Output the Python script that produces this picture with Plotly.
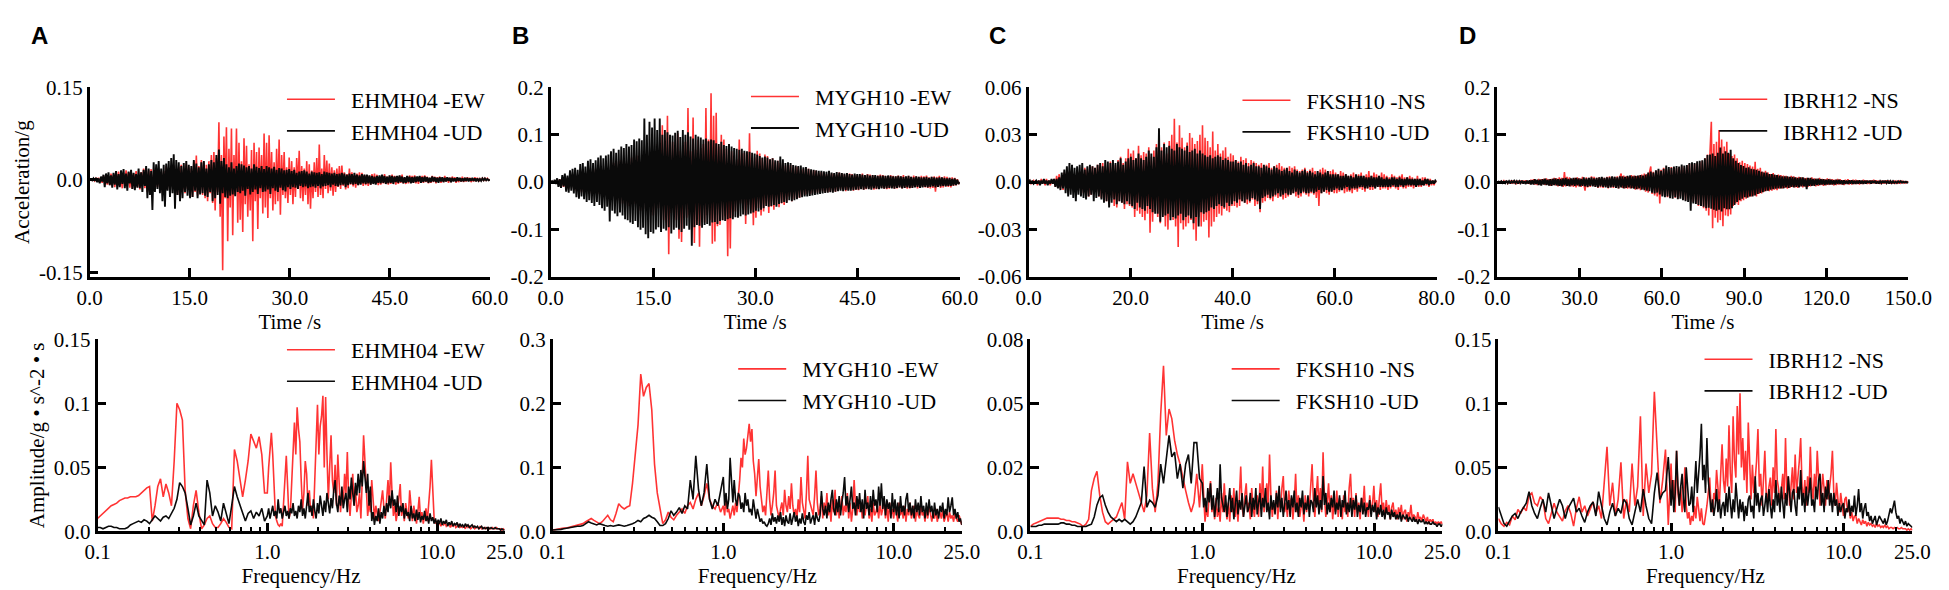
import numpy as np
import plotly.graph_objects as go

# ---------------------------------------------------------------
# acceleration histories (milli-g), evenly sampled over each record
# ---------------------------------------------------------------
dur_a = 60.0
acc_a_ew = [0, 1, -1, 1, -2, 2, -1, 3, -4, 2, -5, 6, -3, 7, -8, 5, -9, 10, -6, 8,
            -12, 9, -5, 13, -10, 4, -14, 11, -8, 15, -6, 12, -13, 7, -15, 10, -9, 14, -12, 6,
            -16, 12, -7, 18, -14, 9, -20, 15, -11, 17, -19, 8, -15, 20, -12, 16, -18, 10, -21, 14,
            -17, 22, -12, 19, -24, 15, -10, 23, -20, 13, -25, 21, -16, 24, -19, 11, -22, 26, -15, 20,
            -24, 18, -28, 30, -20, 39, -26, 22, -18, 32, -25, 28, -30, 24, -35, 30, -22, 40, -38, 45,
            -50, 35, -20, 93, -60, 40, -147, 70, -30, 85, -100, 50, -45, 83, -90, 40, -25, 83, -70, 60,
            -65, 30, -85, 67, -40, 55, -60, 25, -50, 48, -100, 60, -35, 45, -80, 52, -30, 40, -55, 75,
            -45, 60, -62, 72, -30, 45, -50, 28, -40, 50, -35, 65, -57, 40, -25, 45, -30, 20, -38, 36,
            -25, 30, -40, 20, -28, 35, -15, 47, -30, 22, -35, 18, -25, 30, -40, 25, -47, 15, -30, 28,
            -20, 35, -28, 57, -25, 18, -30, 40, -15, 31, -22, 26, -18, 20, -26, 15, -20, 18, -12, 22,
            -15, 23, -10, 12, -16, 9, -14, 18, -8, 12, -11, 7, -13, 10, -9, 12, -7, 11, -10, 8,
            -9, 7, -10, 6, -8, 9, -5, 10, -7, 8, -9, 4, -8, 7, -6, 9, -7, 5, -8, 6,
            -7, 8, -5, 6, -8, 4, -7, 6, -5, 8, -6, 3, -7, 5, -6, 7, -4, 6, -5, 7,
            -6, 4, -7, 5, -3, 6, -5, 7, -4, 5, -6, 3, -5, 6, -4, 5, -6, 4, -3, 5,
            -5, 3, -4, 6, -3, 4, -5, 3, -4, 5, -2, 4, -5, 3, -4, 2, -3, 5, -4, 3,
            -3, 4, -2, 3, -4, 2, -3, 4, -2, 3, -3, 1, -2, 3, -2, 2, -1, 2, -1, 0]
acc_a_ud = [0, 1, -1, 2, -2, 3, -4, 2, -6, 5, -3, 8, -12, 10, -6, 12, -9, 7, -13, 11,
            -8, 14, -16, 9, -12, 15, -7, 17, -14, 10, -18, 13, -6, 16, -15, 11, -17, 9, -13, 18,
            -14, 12, -20, 16, -10, 22, -30, 18, -25, 14, -49, 28, -20, 25, -15, 30, -22, 18, -35, 24,
            -44, 26, -18, 30, -28, 35, -22, 41, -47, 32, -25, 28, -35, 22, -30, 27, -20, 30, -26, 24,
            -30, 22, -28, 32, -18, 26, -30, 20, -24, 28, -22, 30, -26, 18, -28, 25, -20, 32, -35, 28,
            -30, 40, -25, 49, -39, 30, -22, 35, -28, 25, -30, 20, -26, 28, -24, 18, -27, 22, -20, 26,
            -22, 25, -18, 23, -26, 20, -15, 22, -24, 18, -20, 25, -16, 21, -23, 19, -14, 22, -20, 17,
            -19, 22, -16, 20, -23, 18, -14, 21, -18, 16, -20, 19, -13, 18, -17, 15, -19, 16, -12, 17,
            -15, 14, -12, 16, -13, 11, -15, 13, -10, 14, -12, 15, -11, 13, -14, 10, -12, 13, -11, 12,
            -13, 11, -10, 12, -14, 9, -11, 13, -10, 12, -9, 11, -12, 10, -8, 11, -10, 9, -11, 10,
            -9, 11, -8, 10, -12, 8, -9, 10, -7, 9, -8, 11, -7, 8, -9, 7, -8, 9, -6, 8,
            -7, 8, -6, 7, -8, 6, -7, 5, -8, 6, -5, 7, -6, 8, -5, 6, -7, 5, -6, 7,
            -5, 6, -7, 5, -4, 6, -5, 7, -4, 5, -6, 4, -5, 6, -4, 5, -6, 4, -5, 5,
            -4, 5, -3, 6, -5, 4, -4, 5, -3, 4, -5, 3, -4, 5, -3, 4, -4, 3, -5, 4,
            -3, 4, -4, 3, -3, 4, -2, 3, -4, 3, -3, 2, -3, 4, -2, 3, -3, 2, -3, 3,
            -2, 3, -3, 2, -2, 3, -2, 2, -3, 2, -2, 1, -2, 2, -1, 2, -1, 1, -1, 0]

dur_b = 60.0
acc_b_ew = [0, 1, -1, 2, -3, 3, -5, 6, -4, 8, -10, 6, -12, 9, -13, 11, -8, 14, -16, 12,
            -18, 13, -10, 20, -21, 16, -23, 18, -13, 24, -25, 16, -26, 22, -20, 28, -30, 21, -25, 30,
            -33, 26, -20, 34, -36, 25, -40, 33, -30, 41, -43, 32, -38, 44, -26, 46, -45, 36, -48, 40,
            -50, 43, -33, 52, -53, 40, -46, 56, -54, 45, -60, 48, -40, 58, -56, 50, -61, 53, -46, 63,
            -70, 60, -75, 80, -55, 72, -68, 120, -80, 65, -85, 140, -152, 70, -65, 85, -75, 68, -80, 103,
            -119, 65, -126, 72, -60, 85, -75, 156, -70, 65, -80, 136, -128, 68, -82, 90, -136, 72, -65, 80,
            -85, 156, -70, 90, -80, 187, -130, 140, -125, 146, -93, 75, -90, 100, -80, 90, -72, 70, -156, 80,
            -140, 65, -72, 55, -62, 48, -55, 90, -45, 60, -52, 62, -88, 50, -48, 103, -60, 45, -91, 52,
            -75, 66, -55, 60, -70, 50, -62, 58, -45, 55, -65, 48, -52, 50, -58, 42, -48, 45, -53, 40,
            -45, 40, -48, 35, -42, 38, -30, 36, -40, 30, -35, 33, -28, 32, -33, 25, -30, 28, -27, 30,
            -25, 28, -26, 22, -24, 25, -20, 24, -22, 18, -23, 21, -19, 20, -22, 17, -21, 19, -20, 18,
            -19, 17, -20, 16, -18, 20, -15, 18, -17, 16, -19, 15, -16, 18, -14, 17, -18, 15, -16, 14,
            -17, 15, -14, 18, -16, 13, -15, 17, -13, 16, -14, 15, -16, 12, -15, 14, -13, 16, -12, 15,
            -14, 13, -15, 12, -14, 15, -11, 13, -14, 12, -13, 14, -11, 12, -13, 15, -12, 11, -14, 13,
            -13, 11, -12, 14, -10, 12, -13, 11, -12, 13, -10, 12, -11, 14, -12, 10, -13, 11, -12, 12,
            -20, 11, -10, 13, -12, 10, -11, 12, -9, 11, -10, 9, -11, 10, -8, 9, -7, 6, -4, 0]
acc_b_ud = [0, 2, -3, 5, -4, 8, -10, 6, -12, 15, -9, 18, -20, 14, -22, 25, -18, 28, -24, 30,
            -32, 26, -35, 38, -30, 40, -36, 33, -42, 45, -38, 48, -44, 40, -50, 46, -42, 52, -48, 56,
            -55, 50, -60, 56, -52, 58, -83, 65, -60, 70, -66, 62, -72, 68, -64, 75, -70, 72, -78, 80,
            -80, 75, -85, 78, -88, 90, -82, 86, -95, 92, -100, 88, -96, 134, -110, 100, -118, 127, -105, 115,
            -108, 134, -100, 110, -95, 134, -105, 100, -98, 110, -102, 105, -95, 100, -108, 98, -100, 104, -96, 108,
            -100, 95, -105, 110, -98, 100, -92, 105, -100, 96, -134, 92, -95, 100, -90, 96, -92, 94, -96, 90,
            -90, 92, -88, 86, -92, 90, -85, 88, -84, 82, -88, 80, -82, 85, -80, 78, -82, 76, -78, 80,
            -76, 75, -78, 72, -74, 70, -75, 68, -72, 70, -68, 66, -70, 65, -68, 64, -66, 62, -64, 60,
            -60, 58, -62, 55, -58, 52, -55, 54, -50, 52, -52, 48, -50, 50, -48, 46, -52, 45, -46, 54,
            -44, 48, -42, 40, -44, 42, -38, 40, -40, 36, -38, 35, -36, 34, -33, 35, -32, 31, -30, 32,
            -30, 28, -29, 27, -28, 26, -27, 25, -26, 24, -25, 24, -24, 23, -23, 22, -22, 24, -21, 20,
            -22, 19, -20, 21, -19, 20, -18, 19, -19, 18, -17, 19, -18, 17, -18, 16, -17, 18, -16, 17,
            -16, 17, -15, 16, -16, 15, -14, 16, -15, 14, -16, 15, -13, 15, -14, 13, -15, 14, -13, 14,
            -14, 13, -13, 14, -12, 13, -13, 12, -14, 12, -12, 13, -11, 12, -13, 11, -12, 12, -11, 13,
            -12, 11, -12, 10, -11, 12, -10, 11, -12, 10, -11, 10, -10, 11, -11, 9, -10, 11, -9, 10,
            -11, 9, -10, 10, -9, 10, -8, 9, -9, 8, -8, 9, -8, 7, -7, 8, -6, 5, -4, 0]

dur_c = 80.0
acc_c_ns = [0, 1, -1, 0, 1, -1, 1, -2, 1, -1, 2, -1, 1, -2, 2, -1, 1, -2, 1, -1,
            2, -3, 4, -2, 5, -4, 3, -5, 6, -3, 4, -6, 5, -4, 6, -5, 3, -6, 7, -4,
            6, -8, 5, -7, 9, -6, 8, -9, 5, -8, 10, -7, 9, -6, 11, -9, 7, -10, 12, -8,
            10, -12, 9, -14, 13, -10, 12, -15, 11, -16, 14, -12, 16, -13, 12, -17, 15, -14, 21, -15,
            18, -16, 20, -22, 15, -18, 23, -20, 17, -22, 19, -24, 18, -20, 22, -32, 16, -25, 20, -18,
            24, -22, 20, -26, 22, -20, 25, -28, 18, -30, 26, -22, 30, -24, 40, -28, 25, -41, 36, -26,
            28, -30, 22, -28, 25, -26, 31, -24, 28, -30, 24, -37, 26, -22, 30, -28, 36, -25, 28, -24,
            26, -35, 22, -28, 32, -25, 20, -22, 24, -20, 18, -21, 20, -17, 22, -18, 16, -19, 18, -15,
            17, -15, 14, -16, 13, -15, 16, -12, 14, -13, 15, -14, 12, -13, 14, -11, 13, -15, 12, -14,
            11, -19, 12, -13, 10, -12, 11, -10, 12, -11, 9, -12, 10, -9, 11, -10, 12, -9, 10, -11,
            9, -10, 8, -9, 10, -8, 9, -7, 10, -9, 8, -10, 7, -9, 8, -7, 9, -8, 7, -9,
            8, -7, 9, -8, 7, -10, 6, -15, 8, -7, 9, -6, 8, -7, 6, -8, 7, -6, 8, -7,
            6, -7, 5, -6, 7, -5, 6, -7, 5, -6, 4, -6, 5, -7, 6, -5, 4, -6, 5, -4,
            6, -5, 4, -6, 5, -4, 7, -5, 4, -5, 6, -4, 5, -3, 4, -5, 6, -4, 5, -4,
            4, -5, 3, -4, 5, -3, 4, -4, 3, -5, 4, -3, 5, -4, 3, -4, 3, -3, 4, -3,
            3, -4, 2, -3, 4, -3, 2, -3, 3, -2, 3, -2, 2, -3, 2, -2, 1, -2, 1, 0]
acc_c_ud = [0, 1, -1, 1, -1, 0, 1, -1, 1, -2, 1, -1, 2, -1, 1, -2, 1, -1, 2, -1,
            2, -3, 2, -4, 3, -5, 6, -4, 8, -7, 10, -9, 12, -8, 11, -10, 9, -12, 10, -8,
            11, -9, 12, -10, 8, -11, 10, -9, 11, -8, 10, -12, 9, -10, 11, -9, 12, -11, 10, -13,
            14, -12, 13, -16, 12, -13, 14, -11, 12, -14, 13, -12, 15, -13, 11, -14, 13, -12, 15, -14,
            16, -15, 14, -17, 15, -13, 18, -16, 15, -17, 14, -18, 16, -15, 20, -17, 18, -19, 16, -20,
            22, -20, 34, -25, 20, -22, 24, -21, 22, -20, 23, -24, 21, -22, 20, -23, 24, -21, 22, -20,
            21, -24, 20, -22, 23, -21, 19, -23, 20, -26, 21, -22, 18, -28, 20, -19, 18, -20, 17, -19,
            16, -18, 17, -16, 15, -17, 16, -15, 17, -14, 16, -15, 14, -16, 15, -13, 14, -15, 13, -14,
            13, -12, 14, -13, 12, -11, 13, -12, 11, -13, 12, -11, 10, -12, 11, -10, 12, -11, 10, -12,
            10, -17, 9, -10, 11, -9, 10, -8, 9, -10, 8, -9, 10, -8, 9, -7, 8, -9, 7, -8,
            8, -7, 9, -8, 7, -8, 6, -7, 8, -6, 7, -8, 6, -7, 7, -6, 8, -7, 6, -7,
            7, -6, 6, -7, 5, -6, 7, -5, 6, -7, 5, -6, 6, -5, 7, -6, 5, -6, 5, -5,
            5, -4, 5, -5, 4, -5, 4, -4, 5, -3, 4, -5, 4, -4, 3, -4, 5, -4, 4, -3,
            4, -3, 4, -4, 3, -4, 3, -3, 4, -3, 3, -4, 3, -3, 4, -3, 3, -3, 2, -3,
            3, -3, 2, -3, 3, -2, 3, -3, 2, -3, 3, -2, 2, -3, 2, -2, 3, -2, 2, -2,
            2, -2, 2, -3, 2, -2, 2, -2, 1, -2, 2, -1, 2, -2, 1, -1, 1, -1, 1, 0]

dur_d = 150.0
acc_d_ns = [0, 1, -2, 2, -1, 3, -2, 2, -3, 1, 2, -3, 3, -2, 1, -3, 2, -2, 3, -2,
            3, -2, 4, -3, 2, -4, 5, -3, 6, -5, 4, -6, 7, -5, 6, -4, 7, -6, 8, -5,
            6, -8, 7, -6, 9, -7, 8, -9, 10, -8, 9, -10, 21, -9, 11, -8, 10, -9, 7, -10,
            9, -11, 10, -9, 8, -10, 11, -9, -18, 10, -11, 9, -10, 12, -8, 11, -10, 9, -12, 10,
            -11, 10, -12, 9, -10, 11, -13, 12, -11, 10, -12, 11, -10, 12, -13, 11, 18, -12, 14, -13,
            12, -14, 11, -13, 15, -12, 14, -16, 13, -15, 14, -17, 16, -14, 18, -20, 17, -22, 20, 33,
            -25, 22, -28, 24, -30, 25, -45, 26, -28, 30, -26, 28, -32, 27, -30, 32, -28, 30, -33, 29,
            -35, 32, -30, 34, -36, 30, -38, 35, -32, 38, -40, 36, -42, 38, -45, 40, -50, 42, -48, 45,
            -55, 50, -60, 58, -70, 65, 127, -97, 80, -75, 85, -85, 110, -80, 90, -93, 75, -70, 85, -72,
            60, -68, 55, -50, 58, -45, 50, -48, 42, -40, 45, -38, 40, -35, 38, -32, 35, -30, 33, -28,
            43, -30, 28, -25, 30, -24, 22, -20, 24, -18, 20, -19, 17, -18, 19, -16, 15, -17, 16, -14,
            15, -13, 14, -12, 13, -14, 11, -12, 13, -10, 12, -11, 10, -12, 11, -9, 10, -11, 9, -10,
            9, -10, 8, -9, 10, -7, 8, -9, 7, -8, 9, -6, 7, -8, 6, -7, 8, -6, 7, -5,
            6, -7, 5, -6, 7, -5, 6, -5, 4, -6, 5, -4, 6, -5, 4, -5, 5, -4, 5, -4,
            4, -5, 3, -4, 5, -3, 4, -4, 3, -4, 4, -3, 5, -3, 4, -3, 3, -4, 3, -3,
            3, -3, 4, -2, 3, -3, 2, -3, 3, -2, 2, -3, 2, -2, 2, -2, 1, -2, 1, 0]
acc_d_ud = [0, 1, -1, 2, -2, 1, -2, 3, -2, 2, -3, 2, -1, 3, -2, 2, -3, 2, -2, 3,
            -3, 2, -4, 3, -3, 4, -5, 4, -5, 6, -4, 5, -6, 5, -7, 6, -5, 7, -6, 5,
            -7, 6, -8, 7, -6, 8, -7, 6, -8, 7, -9, 8, -7, 9, -8, 7, -9, 8, -7, 9,
            -8, 9, -7, 8, -9, 7, -8, 10, -9, 8, -10, 9, -8, 10, -9, 8, -10, 9, -11, 10,
            -9, 11, -10, 9, -11, 10, -12, 10, -11, 12, -10, 11, -12, 10, -13, 12, -11, 12, -13, 11,
            -12, 13, -11, 14, -13, 12, -14, 13, -15, 14, -13, 15, -16, 14, -17, 16, -18, 20, -19, 22,
            -22, 20, -24, 25, -22, 28, -26, 24, -30, 28, -32, 35, -30, 32, -34, 30, -35, 33, -32, 34,
            -36, 33, -35, 37, -38, 35, -40, 36, -42, 40, -60, 42, -45, 40, -46, 44, -48, 45, -50, 46,
            -52, 50, -55, 57, -54, 58, -56, 60, -58, 55, -60, 62, -58, 73, -62, 60, -55, 65, -57, 62,
            -57, 68, -55, 50, -48, 45, -42, 40, -38, 36, -35, 34, -32, 30, -33, 31, -30, 28, -30, 27,
            -28, 26, -25, 24, -23, 22, -21, 20, -19, 20, -18, 17, -16, 17, -15, 16, -14, 15, -13, 14,
            -13, 12, -13, 12, -11, 12, -12, 11, -10, 11, -11, 10, -10, 9, -11, 10, -9, 10, -9, 8,
            -15, 9, -8, 9, -8, 7, -8, 7, -6, 7, -6, 6, -5, 6, -6, 5, -5, 6, -5, 5,
            -5, 4, -5, 5, -4, 5, -4, 4, -5, 4, -4, 3, -4, 4, -3, 4, -4, 3, -4, 3,
            -3, 4, -3, 3, -4, 3, -3, 3, -2, 3, -3, 3, -2, 3, -3, 2, -3, 2, -2, 3,
            -2, 3, -2, 2, -3, 2, -2, 2, -2, 1, -2, 2, -1, 2, -1, 1, -1, 1, -1, 0]

# ---------------------------------------------------------------
# Fourier amplitude spectra (x 0.001 g*s^-2*s)
# first 62 values: log-spaced 0.1-1 Hz, the rest: finer log spacing 1-25 Hz
# ---------------------------------------------------------------
N_LOW = 62
fas_a_ew = [10, 12, 14, 16, 18, 20, 21, 22, 24, 25,
            26, 26, 27, 27, 27, 28, 30, 32, 34, 35,
            8, 20, 35, 41, 27, 37, 30, 20, 55, 100,
            95, 87, 32, 10, 2, 20, 32, 15, 2, 5,
            10, 12, 6, 3, 3, 6, 10, 7, 3, 2,
            64, 55, 40, 27, 40, 55, 76, 70, 65, 74,
            60, 30,
            30, 50, 65, 77, 60, 30, 12, 8, 5, 4, 6, 4, 20, 40, 59, 35,
            10, 15, 40, 70, 85, 60, 97, 80, 70, 40, 17, 30, 55, 45, 20, 32,
            15, 20, 10, 40, 70, 99, 60, 82, 90, 106, 50, 105, 60, 25, 50, 75,
            40, 30, 52, 20, 60, 35, 15, 32, 20, 45, 30, 62, 25, 12, 32, 45,
            20, 35, 15, 20, 30, 10, 40, 75, 55, 30, 12, 22, 15, 40, 25, 10,
            20, 12, 8, 15, 25, 32, 18, 10, 25, 40, 20, 54, 30, 12, 20, 8,
            15, 25, 37, 12, 20, 8, 22, 15, 10, 32, 18, 8, 20, 12, 6, 15,
            27, 10, 15, 6, 12, 18, 8, 20, 35, 56, 25, 10, 6, 8, 5, 7,
            4, 6, 5, 7, 4, 5, 6, 3, 5, 4, 6, 3, 4, 5, 3, 4,
            3, 4, 2, 5, 3, 4, 2, 3, 4, 2, 3, 3, 2, 4, 2, 3,
            2, 3, 2, 3, 2, 2, 3, 2, 2, 3, 2, 2, 2, 1, 2, 1]
fas_a_ud = [3, 3, 2, 3, 4, 4, 3, 3, 2, 2,
            2, 3, 5, 6, 7, 8, 7, 9, 8, 6,
            9, 12, 10, 8, 11, 12, 10, 14, 18, 25,
            38, 35, 30, 18, 5, 12, 22, 12, 8, 5,
            40, 30, 12, 20, 15, 8, 22, 14, 6, 20,
            35, 27, 20, 15, 8, 14, 16, 10, 15, 12,
            18, 8,
            12, 18, 10, 15, 20, 12, 16, 10, 25, 14, 18, 10, 14, 20, 12, 16,
            10, 18, 14, 22, 12, 16, 10, 20, 15, 25, 12, 18, 10, 22, 30, 15,
            20, 12, 25, 16, 10, 22, 14, 28, 18, 12, 24, 15, 30, 20, 14, 26,
            18, 32, 40, 22, 15, 28, 20, 35, 18, 25, 30, 15, 35, 25, 42, 30,
            20, 38, 28, 45, 30, 48, 35, 55, 40, 30, 45, 20, 35, 8, 15, 5,
            12, 8, 18, 6, 15, 10, 20, 12, 22, 15, 28, 18, 32, 20, 25, 15,
            28, 12, 20, 15, 22, 10, 18, 12, 15, 8, 20, 10, 14, 8, 17, 9,
            15, 7, 12, 9, 16, 8, 12, 6, 14, 8, 11, 6, 10, 5, 9, 6,
            10, 5, 8, 6, 9, 4, 7, 5, 8, 4, 6, 5, 7, 3, 6, 4,
            5, 3, 6, 4, 5, 3, 4, 5, 3, 4, 3, 4, 2, 3, 4, 2,
            3, 2, 3, 3, 2, 3, 2, 2, 3, 2, 2, 2, 1, 2, 1, 1]

fas_b_ew = [2, 3, 3, 4, 5, 5, 6, 7, 8, 9,
            10, 12, 15, 18, 20, 17, 14, 12, 15, 20,
            25, 18, 15, 28, 43, 38, 35, 38, 40, 75,
            120, 166, 246, 211, 225, 231, 190, 105, 60, 35,
            12, 18, 30, 22, 18, 25, 30, 35, 28, 40,
            45, 35, 50, 60, 40, 55, 75, 50, 40, 35,
            45, 30,
            40, 25, 55, 30, 35, 20, 30, 40, 25, 45, 30, 50, 80, 115, 100, 145,
            120, 130, 150, 168, 140, 160, 110, 90, 55, 80, 113, 70, 45, 30, 40, 25,
            60, 95, 50, 25, 40, 60, 95, 40, 30, 20, 35, 45, 25, 65, 40, 30,
            55, 35, 75, 40, 25, 35, 20, 50, 30, 85, 45, 30, 20, 60, 118, 50,
            40, 30, 25, 55, 95, 45, 25, 35, 55, 20, 45, 30, 60, 25, 40, 15,
            50, 30, 65, 25, 45, 20, 35, 55, 25, 40, 30, 60, 20, 45, 15, 35,
            80, 40, 25, 50, 30, 45, 20, 35, 25, 40, 55, 20, 35, 15, 45, 25,
            30, 40, 20, 45, 25, 35, 50, 20, 40, 15, 45, 25, 35, 20, 40, 30,
            15, 45, 25, 35, 20, 40, 15, 35, 25, 45, 20, 30, 40, 15, 35, 25,
            20, 40, 25, 30, 15, 35, 20, 40, 25, 15, 30, 20, 35, 15, 25, 30,
            20, 35, 15, 25, 30, 15, 30, 20, 25, 15, 30, 20, 15, 25, 15, 10]
fas_b_ud = [2, 2, 3, 3, 4, 5, 6, 7, 7, 8,
            8, 9, 12, 15, 13, 11, 10, 12, 10, 9,
            8, 9, 8, 9, 10, 9, 8, 9, 10, 12,
            14, 17, 15, 20, 22, 25, 22, 20, 15, 9,
            9, 12, 20, 32, 25, 30, 37, 28, 40, 35,
            80, 50, 118, 65, 40, 60, 105, 50, 35, 50,
            40, 60,
            85, 40, 60, 35, 50, 115, 70, 45, 80, 50, 40, 60, 55, 35, 45, 30,
            60, 40, 50, 30, 35, 25, 50, 30, 20, 35, 25, 15, 20, 12, 15, 10,
            8, 12, 20, 10, 28, 15, 22, 12, 25, 15, 30, 10, 22, 8, 25, 15,
            12, 28, 10, 22, 30, 15, 25, 8, 20, 12, 28, 15, 10, 25, 18, 30,
            12, 20, 25, 10, 30, 20, 15, 25, 63, 35, 25, 40, 20, 45, 30, 50,
            65, 35, 25, 50, 30, 55, 25, 45, 60, 85, 40, 55, 30, 50, 70, 35,
            45, 25, 55, 35, 60, 30, 50, 20, 65, 35, 45, 25, 55, 30, 65, 40,
            50, 30, 70, 40, 75, 35, 55, 25, 50, 35, 45, 20, 60, 30, 50, 25,
            45, 20, 55, 30, 40, 25, 50, 60, 30, 45, 25, 40, 20, 50, 30, 45,
            25, 55, 30, 40, 20, 45, 25, 50, 30, 40, 20, 45, 25, 35, 20, 40,
            30, 45, 20, 35, 25, 53, 30, 40, 53, 25, 35, 20, 30, 15, 20, 10]

fas_c_ns = [2, 3, 3.5, 4, 4.5, 5, 5.5, 5.5, 5.5, 5.5,
            5.5, 5, 5, 4.5, 4.5, 4, 4, 3.5, 3, 2,
            3, 5, 17, 22, 25, 15, 8, 4, 3, 4,
            5, 6, 9, 12, 5, 29, 20, 24, 20, 16,
            12, 8, 15, 41, 18, 8, 20, 49, 69, 40,
            51, 47, 38, 32, 28, 22, 17, 12, 8, 12,
            24, 10,
            28, 15, 4, 10, 6, 15, 21, 8, 12, 5, 14, 6, 10, 4, 16, 8,
            20, 10, 5, 12, 4, 15, 8, 18, 6, 12, 4, 14, 27, 10, 6, 15,
            20, 8, 12, 5, 18, 10, 6, 14, 15, 6, 20, 10, 27, 8, 14, 20,
            10, 32, 15, 6, 12, 8, 17, 5, 14, 10, 18, 23, 8, 12, 6, 17,
            10, 14, 5, 12, 24, 8, 15, 6, 10, 12, 4, 15, 8, 14, 10, 18,
            28, 12, 6, 15, 23, 10, 18, 8, 33, 14, 6, 12, 20, 8, 15, 5,
            12, 8, 17, 6, 14, 10, 5, 15, 8, 12, 6, 18, 24, 10, 14, 6,
            16, 8, 12, 5, 14, 10, 19, 7, 12, 6, 15, 9, 11, 19, 8, 13,
            6, 14, 20, 9, 12, 6, 13, 8, 11, 5, 10, 12, 6, 9, 5, 10,
            7, 11, 5, 8, 9, 4, 8, 6, 11, 5, 7, 6, 4, 8, 5, 6,
            4, 7, 5, 4, 6, 3, 5, 4, 5, 3, 4, 3, 4, 3, 4, 3]
fas_c_ud = [2, 2, 2, 2.5, 2.5, 3, 3, 3, 3, 3,
            3, 3.5, 3.5, 3, 3, 2.5, 2.5, 2, 2, 2,
            2, 2.5, 3, 6, 11, 14, 15, 11, 8, 6,
            5, 4, 5, 4, 5, 4, 3, 4, 6, 9,
            12, 27, 10, 13, 12, 10, 15, 28, 20, 30,
            40, 31, 33, 22, 28, 18, 28, 32, 20, 37,
            37, 22,
            20, 10, 14, 8, 18, 12, 20, 9, 15, 6, 12, 18, 8, 28, 14, 10,
            8, 15, 6, 12, 18, 8, 14, 5, 12, 17, 7, 13, 9, 16, 6, 12,
            15, 8, 10, 16, 6, 14, 9, 18, 7, 12, 16, 6, 14, 10, 18, 8,
            12, 5, 15, 9, 13, 7, 16, 10, 19, 8, 14, 6, 12, 17, 9, 13,
            6, 15, 10, 17, 8, 12, 6, 14, 10, 17, 7, 12, 9, 15, 6, 13,
            12, 8, 18, 10, 15, 7, 13, 9, 23, 11, 16, 7, 12, 8, 14, 10,
            17, 7, 12, 9, 15, 6, 13, 10, 17, 7, 12, 8, 14, 6, 13, 9,
            15, 6, 11, 8, 14, 7, 12, 6, 10, 9, 13, 6, 11, 8, 12, 5,
            10, 7, 11, 6, 9, 5, 10, 7, 8, 5, 9, 6, 8, 5, 7, 5,
            8, 4, 7, 6, 5, 7, 4, 6, 5, 4, 6, 4, 5, 3, 5, 4,
            4, 5, 3, 4, 3, 4, 3, 3, 4, 3, 3, 2, 3, 3, 2, 3]

fas_d_ns = [10, 6, 4, 7, 5, 12, 9, 17, 14, 19,
            16, 28, 30, 22, 20, 27, 24, 10, 6, 14,
            22, 15, 12, 8, 16, 20, 14, 4, 18, 27,
            15, 20, 12, 18, 23, 14, 20, 10, 40, 66,
            20, 38, 12, 25, 54, 10, 25, 15, 53, 20,
            35, 90, 12, 53, 30, 45, 109, 60, 22, 40,
            64, 5,
            53, 25, 40, 15, 63, 30, 20, 35, 15, 25, 50, 20, 10, 15, 5, 12,
            8, 20, 10, 27, 15, 8, 18, 6, 5, 12, 20, 30, 42, 20, 15, 30,
            25, 48, 30, 20, 45, 68, 40, 30, 57, 35, 83, 45, 30, 90, 55, 42,
            98, 60, 108, 50, 73, 40, 63, 30, 85, 45, 25, 52, 30, 40, 55, 80,
            35, 45, 20, 40, 63, 30, 25, 35, 42, 20, 50, 30, 80, 40, 33, 20,
            35, 45, 25, 73, 30, 43, 20, 35, 50, 25, 60, 30, 40, 55, 73, 35,
            25, 40, 20, 43, 30, 66, 35, 25, 45, 30, 63, 40, 20, 30, 45, 33,
            20, 40, 25, 35, 45, 63, 30, 20, 38, 25, 15, 30, 20, 12, 25, 27,
            15, 20, 10, 15, 8, 12, 12, 6, 10, 8, 5, 9, 6, 8, 4, 7,
            5, 6, 4, 5, 3, 6, 4, 5, 3, 4, 3, 5, 3, 4, 2, 3,
            3, 2, 3, 2, 3, 2, 2, 3, 2, 2, 2, 1, 2, 1, 2, 1]
fas_d_ud = [19, 12, 6, 4, 8, 12, 14, 10, 15, 18,
            22, 31, 20, 14, 10, 18, 25, 15, 30, 20,
            10, 18, 25, 20, 10, 18, 22, 26, 15, 18,
            12, 7, 15, 20, 23, 12, 31, 20, 10, 5,
            15, 22, 12, 18, 14, 25, 22, 10, 5, 15,
            25, 15, 33, 20, 10, 6, 30, 46, 25, 30,
            32, 58,
            20, 40, 15, 30, 63, 35, 20, 35, 45, 25, 15, 50, 30, 20, 22, 35,
            15, 40, 55, 30, 45, 60, 84, 40, 52, 30, 73, 40, 28, 15, 25, 12,
            20, 33, 15, 25, 10, 20, 23, 12, 30, 15, 35, 20, 10, 25, 15, 38,
            20, 10, 25, 15, 23, 8, 20, 12, 25, 28, 15, 20, 10, 43, 20, 30,
            15, 25, 28, 12, 20, 30, 15, 33, 20, 10, 25, 15, 40, 20, 30, 15,
            35, 20, 10, 30, 20, 43, 25, 15, 30, 33, 20, 12, 35, 25, 48, 20,
            30, 15, 35, 20, 30, 42, 20, 25, 15, 35, 25, 40, 45, 20, 30, 15,
            35, 25, 40, 20, 30, 15, 30, 20, 25, 12, 22, 15, 20, 22, 10, 18,
            15, 25, 12, 20, 15, 28, 12, 20, 33, 15, 22, 10, 18, 22, 12, 15,
            8, 12, 6, 10, 12, 5, 8, 12, 10, 8, 6, 10, 5, 8, 12, 18,
            14, 20, 24, 15, 10, 12, 6, 10, 8, 5, 8, 4, 6, 5, 4, 3]

# tick marks per panel
acc_ticks_a = [-0.15, 0.0, 0.15]
acc_labels_a = ["-0.15", "0.0", "0.15"]
acc_ticks_b = [-0.2, -0.1, 0.0, 0.1, 0.2]
acc_labels_b = ["-0.2", "-0.1", "0.0", "0.1", "0.2"]
acc_ticks_c = [-0.06, -0.03, 0.0, 0.03, 0.06]
acc_labels_c = ["-0.06", "-0.03", "0.0", "0.03", "0.06"]
time_ticks_a = [0, 15, 30, 45, 60]
time_ticks_c = [0, 20, 40, 60, 80]
time_ticks_d = [0, 30, 60, 90, 120, 150]

fas_ticks_a = [0.0, 0.05, 0.1, 0.15]
fas_labels_a = ["0.0", "0.05", "0.1", "0.15"]
fas_ticks_b = [0.0, 0.1, 0.2, 0.3]
fas_labels_b = ["0.0", "0.1", "0.2", "0.3"]
fas_ticks_c = [0.0, 0.08 / 3, 0.16 / 3, 0.08]
fas_labels_c = ["0.0", "0.02", "0.05", "0.08"]
freq_ticks = [0.1, 1.0, 10.0, 25.0]
freq_labels = ["0.1", "1.0", "10.0", "25.0"]
freq_minor = [0.2, 0.3, 0.4, 0.5, 0.6, 0.7, 0.8, 0.9, 2, 3, 4, 5, 6, 7, 8, 9, 20]

W, H = 1949, 590
SERIF = "Liberation Serif, Times New Roman, serif"
RED = "rgba(255,0,0,0.8)"
BLACK = "#0a0a0a"
NB = "\u00a0\u00a0"   # a little extra gap between legend line and text


def px_x(p):
    return p / W


def px_y(p):
    return 1 - p / H


def freq_grid(n):
    # coarser log sampling below 1 Hz, finer above (matches how values were read)
    return np.concatenate([np.geomspace(0.1, 1.0, N_LOW, endpoint=False),
                           np.geomspace(1.0, 25.0, n - N_LOW)])


# panel set-up: letter, station, horizontal component, record, ticks, layout (pixels)
panels = [
    dict(letter="A", sta="EHMH04", comp="EW", dur=dur_a, acc_h=acc_a_ew, acc_v=acc_a_ud,
         fas_h=fas_a_ew, fas_v=fas_a_ud, acc_tv=acc_ticks_a, acc_tt=acc_labels_a,
         acc_rng=[-0.158, 0.15], t_tv=time_ticks_a, fas_tv=fas_ticks_a, fas_tt=fas_labels_a,
         top_x=(70, 478), bot_x=(78, 493), letter_x=8, leg_top=(266, 61), leg_bot=(266, 322)),
    dict(letter="B", sta="MYGH10", comp="EW", dur=dur_b, acc_h=acc_b_ew, acc_v=acc_b_ud,
         fas_h=fas_b_ew, fas_v=fas_b_ud, acc_tv=acc_ticks_b, acc_tt=acc_labels_b,
         acc_rng=[-0.2, 0.2], t_tv=time_ticks_a, fas_tv=fas_ticks_b, fas_tt=fas_labels_b,
         top_x=(540, 957), bot_x=(542, 959), letter_x=498, leg_top=(739, 58), leg_bot=(726, 342)),
    dict(letter="C", sta="FKSH10", comp="NS", dur=dur_c, acc_h=acc_c_ns, acc_v=acc_c_ud,
         fas_h=fas_c_ns, fas_v=fas_c_ud, acc_tv=acc_ticks_c, acc_tt=acc_labels_c,
         acc_rng=[-0.06, 0.06], t_tv=time_ticks_c, fas_tv=fas_ticks_c, fas_tt=fas_labels_c,
         top_x=(1027, 1443), bot_x=(1029, 1449), letter_x=985, leg_top=(1240, 62), leg_bot=(1229, 342)),
    dict(letter="D", sta="IBRH12", comp="NS", dur=dur_d, acc_h=acc_d_ns, acc_v=acc_d_ud,
         fas_h=fas_d_ns, fas_v=fas_d_ud, acc_tv=acc_ticks_b, acc_tt=acc_labels_b,
         acc_rng=[-0.2, 0.2], t_tv=time_ticks_d, fas_tv=fas_ticks_a, fas_tt=fas_labels_a,
         top_x=(1505, 1924), bot_x=(1506, 1928), letter_x=1464, leg_top=(1726, 61), leg_bot=(1711, 332)),
]

TOP_Y = (70, 268)
BOT_Y = (333, 533)


def axis_style():
    return dict(showline=True, linecolor="black", linewidth=2.5, ticks="inside", ticklen=9,
                tickwidth=2.5, tickcolor="black", showgrid=False, zeroline=False,
                tickfont=dict(family=SERIF, size=21, color="black"))


def legend_style(pos):
    return dict(x=px_x(pos[0]), y=px_y(pos[1]), xanchor="left", yanchor="top",
                bgcolor="rgba(0,0,0,0)", borderwidth=0, itemwidth=48, tracegroupgap=0,
                font=dict(family=SERIF, size=22, color="black"))


fig = go.Figure()
layout = dict(width=W, height=H, margin=dict(l=0, r=0, t=0, b=0),
              paper_bgcolor="white", plot_bgcolor="white", showlegend=True, annotations=[])

for k, p in enumerate(panels):
    top_n, bot_n = k + 1, k + 5
    leg_t = "legend" if k == 0 else "legend%d" % (2 * k + 1)
    leg_b = "legend%d" % (2 * k + 2)

    # time histories: horizontal first, vertical drawn on top
    for vals, comp, color, lw in ((p["acc_h"], p["comp"], RED, 1.6), (p["acc_v"], "UD", BLACK, 1.9)):
        t = np.linspace(0, p["dur"], len(vals))
        fig.add_trace(go.Scatter(x=t, y=np.array(vals) / 1000.0, mode="lines",
                                 line=dict(color=color, width=lw),
                                 name="%s%s -%s" % (NB, p["sta"], comp), legend=leg_t,
                                 xaxis="x%d" % top_n, yaxis="y%d" % top_n))

    # Fourier spectra
    for vals, comp, color in ((p["fas_h"], p["comp"], RED), (p["fas_v"], "UD", BLACK)):
        fig.add_trace(go.Scatter(x=freq_grid(len(vals)), y=np.array(vals) / 1000.0, mode="lines",
                                 line=dict(color=color, width=1.6),
                                 name="%s%s -%s" % (NB, p["sta"], comp), legend=leg_b,
                                 xaxis="x%d" % bot_n, yaxis="y%d" % bot_n))

    xa = axis_style()
    xa.update(domain=[px_x(p["top_x"][0]), px_x(p["top_x"][1])], anchor="y%d" % top_n,
              range=[0, p["dur"]], tickvals=p["t_tv"], tickformat=".1f",
              title=dict(text="Time /s", font=dict(family=SERIF, size=21, color="black"), standoff=2))
    ya = axis_style()
    ya.update(domain=[px_y(TOP_Y[1]), px_y(TOP_Y[0])], anchor="x%d" % top_n,
              range=p["acc_rng"], tickvals=p["acc_tv"], ticktext=p["acc_tt"])

    xb = axis_style()
    xb.update(domain=[px_x(p["bot_x"][0]), px_x(p["bot_x"][1])], anchor="y%d" % bot_n,
              type="log", range=[-1, np.log10(25.0)], tickvals=freq_ticks, ticktext=freq_labels,
              minor=dict(tickvals=freq_minor, ticks="inside", ticklen=5, tickwidth=2, tickcolor="black"),
              title=dict(text="Frequency/Hz", font=dict(family=SERIF, size=21, color="black"), standoff=2))
    yb = axis_style()
    yb.update(domain=[px_y(BOT_Y[1]), px_y(BOT_Y[0])], anchor="x%d" % bot_n,
              range=[0, p["fas_tv"][-1]], tickvals=p["fas_tv"], ticktext=p["fas_tt"])

    if k == 0:
        ya["title"] = dict(text="Acceleration/g", font=dict(family=SERIF, size=21, color="black"), standoff=4)
        yb["title"] = dict(text="Amplitude/g \u2022 s^-2 \u2022 s",
                           font=dict(family=SERIF, size=21, color="black"), standoff=4)

    layout["xaxis" if top_n == 1 else "xaxis%d" % top_n] = xa
    layout["yaxis" if top_n == 1 else "yaxis%d" % top_n] = ya
    layout["xaxis%d" % bot_n] = xb
    layout["yaxis%d" % bot_n] = yb
    layout[leg_t] = legend_style(p["leg_top"])
    layout[leg_b] = legend_style(p["leg_bot"])

    layout["annotations"].append(dict(text="<b>%s</b>" % p["letter"], xref="paper", yref="paper",
                                      x=px_x(p["letter_x"]), y=px_y(16), xanchor="left", yanchor="middle",
                                      showarrow=False,
                                      font=dict(family="Liberation Sans, Arial", size=24, color="black")))

fig.update_layout(**layout)
fig.write_html("out.html")
